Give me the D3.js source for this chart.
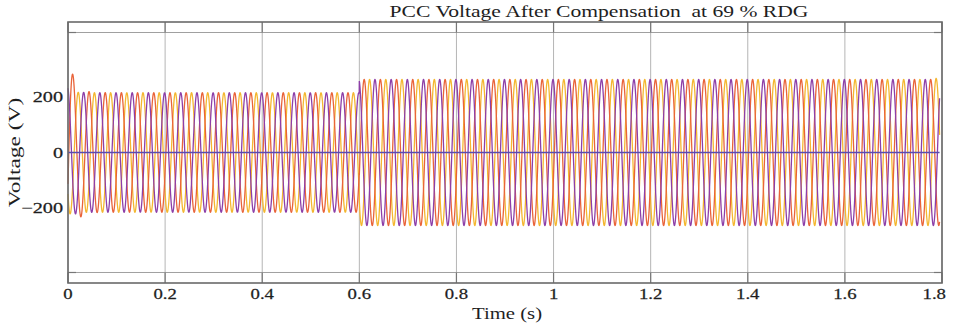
<!DOCTYPE html>
<html>
<head>
<meta charset="utf-8">
<script src="https://cdn.jsdelivr.net/npm/d3@7"></script>
<style>
  html, body { margin: 0; padding: 0; background: #fff; }
  svg { display: block; }
  text { font-family: "Liberation Serif", "Times New Roman", serif; fill: #1e1e1e; white-space: pre; }
</style>
</head>
<body>
<svg id="chart" width="953" height="324"></svg>
<script>
// ---- data ----
const title = "PCC Voltage After Compensation  at 69 % RDG";
const xLabel = "Time (s)";
const yLabel = "Voltage (V)";
const xTicks = [0, 0.2, 0.4, 0.6, 0.8, 1.0, 1.2, 1.4, 1.6, 1.8];
const yTicks = [-200, 0, 200];
const yLimits = [-472, 472];
const limitLines = [-434, 434];          // inner horizontal reference lines

// three phase voltages: names, colours, phase shift (degrees)
const phaseNames  = ["Vb", "Va", "Vc"];
const phaseColors = ["#f4b731", "#e9643a", "#8d3fa8"];
const phaseShift  = [-120, 0, 120];

// operating segments: start time (s), peak amplitude (V)
const segStart = [0, 0.6];
const segAmp   = [216, 264];
const freqHz   = 30;                      // plotted waveform frequency
const tEnd     = 1.795;

// start-up overshoot per phase (extra fraction of amplitude, decays quickly)
const startBoost = [0.04, 0.7, 0.1];
const startTau   = 0.012;
// switching spike at the end of the run, per phase
const endBoost   = [0.16, 0.0, 0.0];
const endTau     = 0.003;

// ---- layout ----
const svg = d3.select("#chart");
const L = 68, R = 942, T = 22, B = 283;

const x = d3.scaleLinear().domain([0, 1.8]).range([L, R]);
const y = d3.scaleLinear().domain(yLimits).range([B, T]);

// vertical grid lines
svg.append("g").selectAll("line").data(xTicks).join("line")
  .attr("x1", d => x(d)).attr("x2", d => x(d))
  .attr("y1", T).attr("y2", B)
  .attr("stroke", "#b5b5b5").attr("stroke-width", 1);

// horizontal reference lines
svg.append("g").selectAll("line").data(limitLines).join("line")
  .attr("x1", L).attr("x2", R)
  .attr("y1", d => y(d)).attr("y2", d => y(d))
  .attr("stroke", "#a0a0a0").attr("stroke-width", 1);

// darker tick marks in the band between frame and reference lines
const tickG = svg.append("g").attr("stroke", "#777").attr("stroke-width", 1.2);
xTicks.forEach(d => {
  tickG.append("line").attr("x1", x(d)).attr("x2", x(d)).attr("y1", T).attr("y2", y(limitLines[1]));
  tickG.append("line").attr("x1", x(d)).attr("x2", x(d)).attr("y1", y(limitLines[0])).attr("y2", B);
});
limitLines.forEach(v => {
  tickG.append("line").attr("x1", L).attr("x2", L + 8).attr("y1", y(v)).attr("y2", y(v));
  tickG.append("line").attr("x1", R - 8).attr("x2", R).attr("y1", y(v)).attr("y2", y(v));
});

// waveform builder
function ampAt(t) {
  let a = segAmp[0];
  segStart.forEach((s, i) => { if (t >= s) a = segAmp[i]; });
  return a;
}
const phi0 = Math.PI / 2 - 2 * Math.PI * freqHz * 0.01;
const dt = 0.0002;
const times = d3.range(0, tEnd + dt / 2, dt);

function phaseSeries(k) {
  const sh = phaseShift[k] * Math.PI / 180;
  return times.map(t => {
    const boost = 1 + startBoost[k] * Math.exp(-t / startTau)
                    + endBoost[k] * Math.exp(-(tEnd - t) / endTau);
    return [t, ampAt(t) * boost * Math.sin(2 * Math.PI * freqHz * t + phi0 + sh)];
  });
}

const line = d3.line().x(d => x(d[0])).y(d => y(d[1]));
const waves = svg.append("g");
phaseNames.forEach((name, k) => {
  waves.append("path")
    .datum(phaseSeries(k))
    .attr("fill", "none")
    .attr("stroke", phaseColors[k])
    .attr("stroke-width", 1.3)
    .attr("d", line);
});

// zero line
svg.append("line")
  .attr("x1", L).attr("x2", x(tEnd))
  .attr("y1", y(0)).attr("y2", y(0))
  .attr("stroke", "#5a4cb0").attr("stroke-width", 1.3);

// frame
svg.append("rect")
  .attr("x", L).attr("y", T).attr("width", R - L).attr("height", B - T)
  .attr("fill", "none").attr("stroke", "#6a6a6a").attr("stroke-width", 1.6);

// wide serif lettering: text is stretched along its reading direction
function wideText(g, px, py, str, size, sx, anchor, rot) {
  return g.append("text")
    .attr("transform", `translate(${px},${py}) rotate(${rot || 0}) scale(${sx},1)`)
    .attr("text-anchor", anchor)
    .attr("font-size", size)
    .text(str);
}

// x tick labels (the last one is kept inside the page edge)
const labels = svg.append("g");
const fmt = d3.format("~g");
xTicks.forEach((d, i) => {
  const last = i === xTicks.length - 1;
  wideText(labels, last ? x(d) + 4 : x(d), 299, fmt(d), 15, 1.25, last ? "end" : "middle")
    .attr("stroke", "#1e1e1e").attr("stroke-width", 0.25);
});
// y tick labels
yTicks.forEach(d => {
  wideText(labels, 63, y(d) + 5, d3.format("d")(d), 15, 1.35, "end")
    .attr("stroke", "#1e1e1e").attr("stroke-width", 0.25);
});

wideText(svg, 599, 17, title, 17, 1.27, "middle");
wideText(svg, x(0.9) + 2, 319, xLabel, 17, 1.22, "middle");
wideText(svg, 20, y(0), yLabel, 16.5, 1.42, "middle", -90);
</script>
</body>
</html>
